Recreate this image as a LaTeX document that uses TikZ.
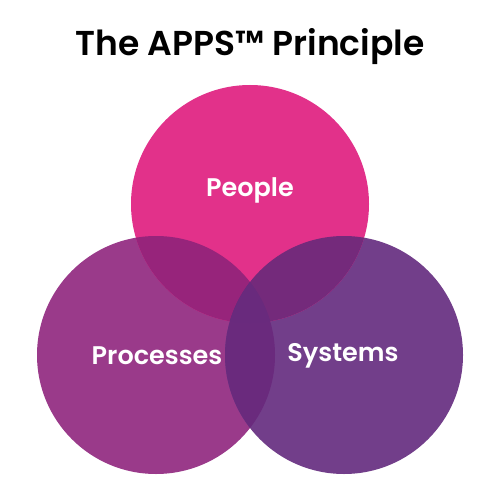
\documentclass[tikz,border=0pt]{standalone}
\usepackage{fontspec}
\setmainfont{Poppins}
\newfontfamily\titlefont{Poppins SemiBold}
\newfontfamily\labelfont{Poppins SemiBold}
\definecolor{cTop}{HTML}{E2318A}
\definecolor{cLeft}{HTML}{9A3A8A}
\definecolor{cRight}{HTML}{723E8A}
\definecolor{cTL}{HTML}{97247B}
\definecolor{cTR}{HTML}{742A7B}
\definecolor{cLR}{HTML}{6A2A7D}
\definecolor{cAll}{HTML}{692A7D}
\tikzset{
  venn/.style={circle, minimum size=238pt, inner sep=0pt},
  lbl/.style={text=white, font=\labelfont\fontsize{25.5}{30}\selectfont},
}
\begin{document}
\begin{tikzpicture}[x=1pt,y=-1pt]
\useasboundingbox (0,0) rectangle (500,500);
\fill[white] (0,0) rectangle (500,500);
\def\rr{119}
% base circles
\node[venn, fill=cLeft] (proc) at (156,355) {};
\node[venn, fill=cRight] (sys) at (344,355) {};
\node[venn, fill=cTop] (peop) at (250,204) {};
% pairwise overlaps
\begin{scope}
  \clip (250,204) circle (\rr);
  \fill[cTL] (156,355) circle (\rr);
\end{scope}
\begin{scope}
  \clip (250,204) circle (\rr);
  \fill[cTR] (344,355) circle (\rr);
\end{scope}
\begin{scope}
  \clip (156,355) circle (\rr);
  \fill[cLR] (344,355) circle (\rr);
\end{scope}
\begin{scope}
  \clip (156,355) circle (\rr);
  \clip (344,355) circle (\rr);
  \fill[cAll] (250,204) circle (\rr);
\end{scope}
\node[font=\titlefont\fontsize{34.5}{40}\selectfont, text=black] (title) at (250,47) {The APPS™ Principle};
\node[lbl] (tPeople) at (250,190) {People};
\node[lbl] (tProc) at (157,356) {Processes};
\node[lbl] (tSys) at (343,356) {Systems};
\end{tikzpicture}
\end{document}
